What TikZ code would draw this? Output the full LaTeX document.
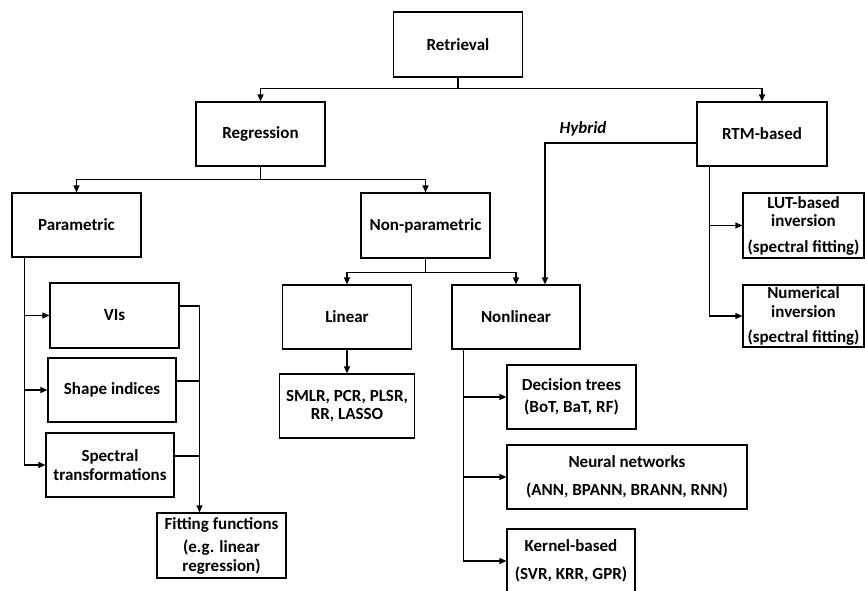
\documentclass[tikz,border=0pt]{standalone}
\usepackage{fontspec}
\setmainfont{Carlito}
\usetikzlibrary{arrows.meta, positioning}

\begin{document}
\begin{tikzpicture}[x=1pt, y=-1pt, ->, >={Triangle[length=7pt,width=6pt]}, line width=1.2pt,
    box/.style={draw, -, align=center, inner sep=1pt, minimum width=129pt, minimum height=64pt,
      font=\fontsize{17}{18.5}\selectfont\bfseries}]
    \useasboundingbox (0,0) rectangle (865,590);
    % top levels
    \node[box, minimum height=65pt] (ret) at (458,44.5) {Retrieval};
    \node[box] (reg) at (260.5,134) {Regression};
    \node[box, minimum width=130pt] (rtm) at (762,134) {RTM-based};
    \node[box] (par) at (76.5,225) {Parametric};
    \node[box, minimum height=65pt] (npar) at (425.5,225.5) {Non-parametric};
    \node[box] (lin) at (347,317) {Linear};
    \node[box, minimum width=128pt] (nl) at (516,317) {Nonlinear};
    \node[box, minimum width=135pt] (sml) at (347,406) {SMLR, PCR, PLSR,\\RR, LASSO};
    % parametric side
    \node[box, minimum height=65pt] (vis) at (114.5,315.5) {VIs};
    \node[box, minimum width=128pt] (shp) at (112,390) {Shape indices};
    \node[box, minimum width=128pt] (spc) at (110,465) {Spectral\\transformations};
    \node[box, minimum height=65pt] (fit) at (221.5,545.5) {Fitting functions\\[5pt](e.g. linear\\regression)};
    % nonlinear side
    \node[box] (dt) at (571.5,397) {Decision trees\\[4pt](BoT, BaT, RF)};
    \node[box, minimum width=240pt] (nn) at (627,477) {Neural networks\\[10pt](ANN, BPANN, BRANN, RNN)};
    \node[box, minimum width=128pt] (kb) at (571,561) {Kernel-based\\[10pt](SVR, KRR, GPR)};
    % RTM side
    \node[box, minimum width=121pt, minimum height=65pt] (lut) at (803.5,225.5) {LUT-based\\inversion\\[7pt](spectral fitting)};
    \node[box, minimum width=121pt, minimum height=62pt] (num) at (803.5,316) {Numerical\\inversion\\[7pt](spectral fitting)};
    \node[font=\fontsize{17}{18.5}\selectfont\bfseries\itshape] (hyb) at (583,129) {Hybrid};

    \draw (ret.south) -- ++(0,11) -| (reg.north);
    \draw (ret.south) -- ++(0,11) -| (rtm.north);
    \draw (reg.south) -- ++(0,13) -| (par.north);
    \draw (reg.south) -- ++(0,13) -| (npar.north);
    \draw (npar.south) -- ++(0,14) -| (lin.north);
    \draw (npar.south) -- ++(0,14) -| (nl.north);
    \draw (lin) -- (sml);
    \draw ([xshift=13pt]par.south west) |- (vis.west);
    \draw ([xshift=13pt]par.south west) |- (shp.west);
    \draw ([xshift=13pt]par.south west) |- (spc.west);
    \coordinate (fitin) at ([xshift=-22pt]fit.north);
    \draw ([yshift=9.5pt]vis.east) -| (fitin);
    \draw[-] ([yshift=9pt]shp.east) -- ([yshift=9pt]shp.east -| fitin);
    \draw[-] ([yshift=9pt]spc.east) -- ([yshift=9pt]spc.east -| fitin);
    \draw ([xshift=12pt]nl.south west) |- (dt.west);
    \draw ([xshift=12pt]nl.south west) |- (nn.west);
    \draw ([xshift=12pt]nl.south west) |- (kb.west);
    \draw ([xshift=13pt]rtm.south west) |- (lut.west);
    \draw ([xshift=13pt]rtm.south west) |- (num.west);
    \draw ([yshift=-9pt]rtm.west) -| ([xshift=29pt]nl.north);
\end{tikzpicture}
\end{document}
